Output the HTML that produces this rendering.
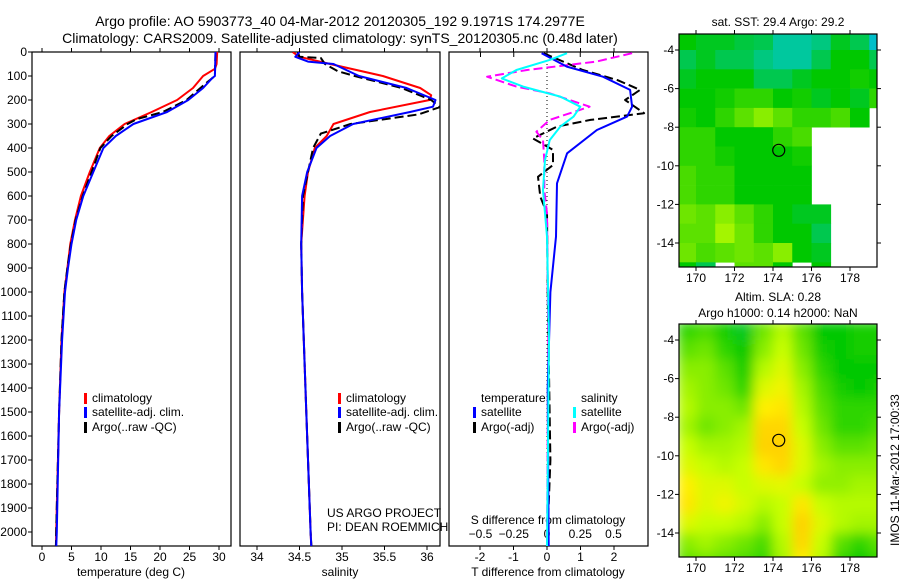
<!DOCTYPE html>
<html><head><meta charset="utf-8"><style>
body{margin:0;background:#fff}
svg{display:block;font-family:"Liberation Sans",sans-serif;font-size:12px}
</style></head><body>
<svg id="s" width="900" height="580" viewBox="0 0 900 580">
<defs>
<clipPath id="c1"><rect x="32" y="52" width="199" height="494"/></clipPath>
<clipPath id="c2"><rect x="240" y="52" width="200" height="494"/></clipPath>
<clipPath id="c3"><rect x="449" y="52" width="199" height="494"/></clipPath>
<clipPath id="m1"><rect x="679" y="34" width="198" height="233"/></clipPath>
<clipPath id="m2"><rect x="679" y="324" width="198" height="233"/></clipPath>
<filter id="bl"><feGaussianBlur stdDeviation="6"/></filter>
</defs>
<text x="340" y="26" text-anchor="middle" font-size="14">Argo profile: AO 5903773_40 04-Mar-2012 20120305_192 9.1971S 174.2977E</text>
<text x="340" y="43" text-anchor="middle" font-size="14">Climatology: CARS2009. Satellite-adjusted climatology: synTS_20120305.nc (0.48d later)</text>
<g id="g"></g>
</svg>
<script>
// ---- profile data (depth in m) ----
const tClimD=[0,50,70,100,150,200,250,300,350,400,500,600,700,800,900,1000,1200,1500,2000,2070];
const tClimV=[29.7,29.6,29.3,27.3,25.6,22.9,18.6,14,11.4,9.8,8.1,6.6,5.6,4.8,4.3,3.8,3.3,2.9,2.4,2.35];
const tSatD=[0,100,110,150,200,250,300,350,400,500,600,700,800,900,1000,1200,1500,2000,2070];
const tSatV=[29.4,29.3,28.8,27.3,24.8,21.2,15.5,12.5,10.4,8.7,7.0,5.8,5.0,4.4,3.9,3.4,2.9,2.5,2.4];
const tArgoD=[0,100,130,200,250,280,300,350,400,500,600,700,800,900,1000,1200,1500,2000,2060];
const tArgoV=[29.4,29.3,27.8,24.5,20.5,16,14.5,11.8,9.9,8.4,6.9,5.7,4.9,4.3,3.8,3.3,2.9,2.4,2.35];
const sClimD=[0,20,50,100,150,180,200,250,300,350,400,500,600,800,1000,1500,2000,2070];
const sClimV=[34.42,34.5,34.86,35.48,35.92,36.05,36.03,35.33,34.9,34.82,34.68,34.6,34.56,34.52,34.53,34.58,34.63,34.64];
const sSatD=[0,20,40,50,100,150,200,228,250,300,350,400,500,600,800,1000,1500,2000,2070];
const sSatV=[34.5,34.45,34.6,34.9,35.2,35.76,36.1,36.07,35.8,35.13,34.86,34.7,34.59,34.53,34.52,34.53,34.58,34.63,34.64];
const sArgoD=[0,20,25,50,80,100,150,200,230,260,300,340,400,500,600,800,1000,1500,2000,2060];
const sArgoV=[34.48,34.5,34.75,34.8,34.95,35.15,35.7,36.05,36.15,35.9,35.1,34.75,34.66,34.6,34.54,34.52,34.53,34.58,34.63,34.64];
const dTsatD=[5,61,103,158,228,269,325,422,547,769,1000,1400,2070];
const dTsatV=[-0.16,0.59,1.67,2.48,2.54,2.39,1.49,0.6,0.3,0.27,0.1,0.02,0.05];
const dTargoD=[5,75,117,158,200,255,283,311,360,408,471,520,603,672,1000,1700,2070];
const dTargoV=[-0.1,1.07,2.1,2.78,2.33,2.9,1.3,0.3,-0.42,0.18,0.18,-0.27,-0.2,0,0.02,0.1,0];
const dSsatD=[5,33,75,110,144,186,228,269,311,367,450,575,769,1200,2070];
const dSsatV=[0.15,0.02,-0.23,-0.34,-0.18,0.1,0.25,0.2,0.1,0.02,-0.015,-0.03,0,0.015,0];
const dSargoD=[5,40,75,103,144,172,228,283,332,367,450,575,672,1200,2070];
const dSargoV=[0.64,0.37,-0.15,-0.45,-0.23,0.02,0.32,0.02,-0.08,-0.03,-0.02,-0.02,0,0.01,0];
const depthTicks=[0,100,200,300,400,500,600,700,800,900,1000,1100,1200,1300,1400,1500,1600,1700,1800,1900,2000];
const tTicks=[0,5,10,15,20,25,30];
const sTicks=[34,34.5,35,35.5,36];
const dtTicks=[-2,-1,0,1,2];
const dsTicks=[-0.5,-0.25,0,0.25,0.5];
const lonTicks=[170,172,174,176,178];
const latTicks=[-4,-6,-8,-10,-12,-14];
// ---- map grids: rows lat -3..-16 (1 deg), cols lon 169..180 ----
const N=null;
const sstGrid=[
[0.5,0.48,0.48,0.46,0.45,0.4,0.4,0.42,0.48,0.45,0.35],
[0.45,0.48,0.45,0.45,0.42,0.4,0.4,0.45,0.5,0.5,0.45],
[0.48,0.5,0.5,0.5,0.45,0.45,0.48,0.5,0.5,0.52,0.5],
[0.5,0.5,0.52,0.55,0.55,0.5,0.52,0.48,0.5,0.48,0.55],
[0.52,0.5,0.55,0.6,0.65,0.6,0.55,0.55,0.58,0.5,N],
[0.55,0.55,0.5,0.5,0.5,0.55,0.58,N,N,N,N],
[0.55,0.55,0.52,0.5,0.5,0.5,0.52,N,N,N,N],
[0.58,0.55,0.55,0.5,0.5,0.5,0.5,N,N,N,N],
[0.58,0.55,0.55,0.5,0.5,0.5,0.5,N,N,N,N],
[0.62,0.6,0.65,0.6,0.55,0.5,0.48,0.48,N,N,N],
[0.6,0.6,0.68,0.62,0.55,0.5,0.5,0.45,N,N,N],
[0.62,0.58,0.6,0.62,0.6,0.65,0.5,0.48,N,N,N],
[0.5,0.45,N,0.6,0.6,0.5,N,0.5,N,N,N]];
const slaGrid=[
[0.55,0.58,0.52,0.48,0.62,0.7,0.6,0.5,0.5,0.52,0.52],
[0.6,0.62,0.55,0.5,0.65,0.72,0.62,0.52,0.5,0.52,0.52],
[0.65,0.65,0.6,0.52,0.7,0.75,0.65,0.55,0.5,0.5,0.5],
[0.68,0.65,0.62,0.55,0.75,0.78,0.68,0.58,0.52,0.5,0.52],
[0.7,0.65,0.65,0.62,0.8,0.82,0.7,0.6,0.55,0.55,0.55],
[0.68,0.62,0.65,0.68,0.85,0.85,0.72,0.62,0.55,0.55,0.58],
[0.72,0.68,0.68,0.7,0.86,0.86,0.75,0.65,0.6,0.6,0.62],
[0.75,0.72,0.7,0.72,0.82,0.85,0.75,0.68,0.65,0.65,0.65],
[0.8,0.75,0.75,0.72,0.75,0.76,0.72,0.66,0.66,0.68,0.68],
[0.82,0.75,0.78,0.74,0.7,0.72,0.82,0.72,0.7,0.7,0.7],
[0.75,0.72,0.72,0.7,0.65,0.72,0.86,0.75,0.7,0.68,0.68],
[0.65,0.68,0.65,0.62,0.58,0.7,0.85,0.72,0.6,0.55,0.6],
[0.6,0.62,0.6,0.58,0.55,0.68,0.8,0.7,0.55,0.5,0.55]];
const argoLon=174.2977, argoLat=-9.1971;

const NS='http://www.w3.org/2000/svg';
const G=document.getElementById('g');
function el(tag,at,parent,txt){const e=document.createElementNS(NS,tag);for(const k in at)e.setAttribute(k,at[k]);if(txt!==undefined)e.textContent=txt;(parent||G).appendChild(e);return e;}
const yD=d=>52+d*0.24;
const xT=t=>42+t*5.9, xS=s=>257+(s-34)*85, xdT=t=>547+t*33.5, xdS=s=>547+s*133;
const lonX=l=>696+(l-170)*19.25;
const latY=(la,off)=>off+50+(-4-la)*19.3;

function line(D,V,fx,clip,color,dash,name){
  const pts=D.map((d,i)=>fx(V[i]).toFixed(1)+','+yD(d).toFixed(1)).join(' ');
  const p=el('polyline',{points:pts,fill:'none',stroke:color,'stroke-width':2,'stroke-linejoin':'round','clip-path':'url(#'+clip+')'});
  if(dash)p.setAttribute('stroke-dasharray','9,4');
  
  
}
function panel(x0,w,name){
  const r=el('rect',{x:x0,y:52,width:w,height:494,fill:'none',stroke:'#000','stroke-width':1.2});
  
  
}
panel(32,199,'temperature-panel');panel(240,200,'salinity-panel');panel(449,199,'difference-panel');
depthTicks.forEach(d=>{
  el('line',{x1:28,x2:32,y1:yD(d),y2:yD(d),stroke:'#000'});
  const t=el('text',{x:27,y:yD(d)+4,'text-anchor':'end'},G,String(d));
  
  
});
function xticks(ticks,fx,name){ticks.forEach(v=>{const x=fx(v);el('line',{x1:x,x2:x,y1:546,y2:550,stroke:'#000'});el('line',{x1:x,x2:x,y1:52,y2:48,stroke:'#000'});
  const t=el('text',{x:x,y:561,'text-anchor':'middle'},G,String(v));
  
  });}
xticks(tTicks,xT,'temperature-tick-label');
xticks(sTicks,xS,'salinity-tick-label');
xticks(dtTicks,xdT,'t-diff-tick-label');
dsTicks.forEach(v=>{const x=xdS(v);el('line',{x1:x,x2:x,y1:52,y2:57,stroke:'#000'});
  const t=el('text',{x:x,y:538,'text-anchor':'middle'},G,String(v).replace('-','\u2212'));
  
  });
[['temperature (deg C)',131,'temperature-axis-title'],['salinity',340,'salinity-axis-title'],['T difference from climatology',548,'t-diff-axis-title']].forEach(a=>{
  const t=el('text',{x:a[1],y:576,'text-anchor':'middle'},G,a[0]);
  
  });
{const t=el('text',{x:548,y:524,'text-anchor':'middle'},G,'S difference from climatology');

}
el('line',{x1:547,x2:547,y1:52,y2:546,stroke:'#000','stroke-dasharray':'1,3'});
line(tClimD,tClimV,xT,'c1','#f00',false,'temp-climatology-line');
line(tArgoD,tArgoV,xT,'c1','#000',true,'temp-argo-line');
line(tSatD,tSatV,xT,'c1','#00f',false,'temp-satellite-line');
line(sClimD,sClimV,xS,'c2','#f00',false,'sal-climatology-line');
line(sArgoD,sArgoV,xS,'c2','#000',true,'sal-argo-line');
line(sSatD,sSatV,xS,'c2','#00f',false,'sal-satellite-line');
line(dTargoD,dTargoV,xdT,'c3','#000',true,'t-diff-argo-line');
line(dSargoD,dSargoV,xdS,'c3','#f0f',true,'s-diff-argo-line');
line(dTsatD,dTsatV,xdT,'c3','#00f',false,'t-diff-satellite-line');
line(dSsatD,dSsatV,xdS,'c3','#0ff',false,'s-diff-satellite-line');
function leg(x,y,color,label,name){
  if(color)el('rect',{x:x,y:y-9,width:3,height:11,fill:color});
  const t=el('text',{x:x+8,y:y},G,label);
  
  
}
leg(84,402,'#f00','climatology','legend-climatology');
leg(84,416,'#00f','satellite-adj. clim.','legend-satellite');
leg(84,431,'#000','Argo(..raw -QC)','legend-argo');
leg(338,402,'#f00','climatology','legend-climatology-2');
leg(338,416,'#00f','satellite-adj. clim.','legend-satellite-2');
leg(338,431,'#000','Argo(..raw -QC)','legend-argo-2');
leg(473,402,null,'temperature','legend-temperature-header');
leg(473,416,'#00f','satellite','legend-t-satellite');
leg(473,431,'#000','Argo(-adj)','legend-t-argo');
leg(573,402,null,'salinity','legend-salinity-header');
leg(573,416,'#0ff','satellite','legend-s-satellite');
leg(573,431,'#f0f','Argo(-adj)','legend-s-argo');
{const t=el('text',{x:327,y:517},G,'US ARGO PROJECT');
const u=el('text',{x:327,y:531},G,'PI: DEAN ROEMMICH');}
const stops=[[0,[0,0,140]],[0.2,[0,140,255]],[0.38,[0,200,190]],[0.5,[0,200,0]],[0.62,[110,230,0]],[0.72,[200,255,0]],[0.8,[255,240,0]],[0.9,[255,190,0]]];
function cmap(v){for(let i=1;i<stops.length;i++){if(v<=stops[i][0]){const a=stops[i-1],b=stops[i],f=(v-a[0])/(b[0]-a[0]);return 'rgb('+a[1].map((c,k)=>Math.round(c+(b[1][k]-c)*f)).join(',')+')';}}return 'rgb(255,190,0)';}
function map(grid,off,clip,name,blur){
  const g=el('g',{'clip-path':'url(#'+clip+')'});
  
  
  const inner=el('g',blur?{filter:'url(#bl)'}:{},g);
  grid.forEach((row,r)=>row.forEach((v,c)=>{if(v===null)return;
    const x=lonX(169+c),y=latY(-3-r,off);
    const rc=el('rect',{x:x,y:y,width:19.6,height:19.6,fill:cmap(v)},inner);
    
    
  }));
  el('rect',{x:679,y:34+off,width:198,height:233,fill:'none',stroke:'#000','stroke-width':1.2});
  lonTicks.forEach(l=>{const x=lonX(l);el('line',{x1:x,x2:x,y1:34+off,y2:30+off,stroke:'#000'});el('line',{x1:x,x2:x,y1:267+off,y2:271+off,stroke:'#000'});
    const t=el('text',{x:x,y:282+off,'text-anchor':'middle'},G,String(l));});
  latTicks.forEach(la=>{const y=latY(la,off);el('line',{x1:877,x2:881,y1:y,y2:y,stroke:'#000'});el('line',{x1:679,x2:675,y1:y,y2:y,stroke:'#000'});
    const t=el('text',{x:674,y:y+4,'text-anchor':'end'},G,String(la));});
  const c=el('circle',{cx:lonX(argoLon),cy:latY(argoLat,off),r:6,fill:'none',stroke:'#000','stroke-width':1.2});
  
  
}
map(sstGrid,0,'m1','sst-map',false);
map(slaGrid,290,'m2','sla-map',true);
[['sat. SST: 29.4 Argo: 29.2',26,'sst-map-title'],['Altim. SLA: 0.28',301,'sla-map-title'],['Argo h1000: 0.14 h2000: NaN',317,'sla-map-subtitle']].forEach(a=>{
  const t=el('text',{x:778,y:a[1],'text-anchor':'middle'},G,a[0]);});
{const t=el('text',{x:0,y:0,transform:'translate(899,546) rotate(-90)'},G,'IMOS 11-Mar-2012 17:00:33');}
</script>
</body></html>
